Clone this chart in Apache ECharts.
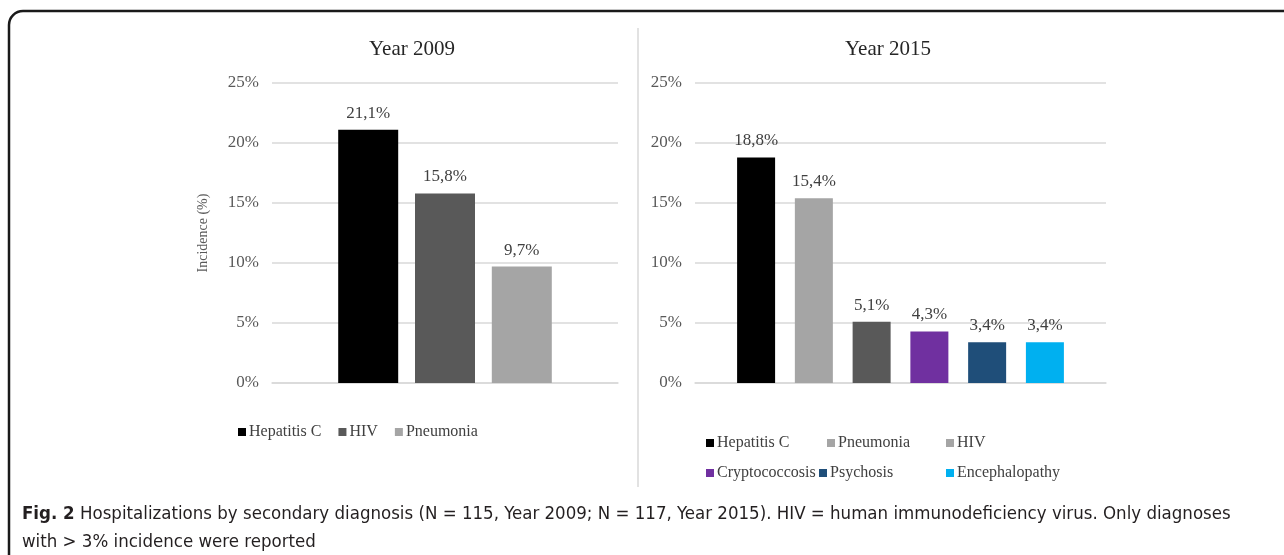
<!DOCTYPE html>
<html lang="en">
<head>
<meta charset="UTF-8">
<title>Hospitalizations by secondary diagnosis</title>
<script src="https://cdn.jsdelivr.net/npm/echarts@6/dist/echarts.min.js"></script>
<style>html, body { margin: 0; padding: 0; background: #fff; }</style>
</head>
<body>
<div id="main" style="width:1284px;height:555px;"></div>
<script type="text/javascript">
// data (incidence in %)
var names2009 = ['Hepatitis C', 'HIV', 'Pneumonia'];
var values2009 = [21.1, 15.8, 9.7];
var colors2009 = ['#000000', '#595959', '#a5a5a5'];

var names2015 = ['Hepatitis C', 'Pneumonia', 'HIV', 'Cryptococcosis', 'Psychosis', 'Encephalopathy'];
var values2015 = [18.8, 15.4, 5.1, 4.3, 3.4, 3.4];
var colors2015 = ['#000000', '#a5a5a5', '#595959', '#7030a0', '#1f4e79', '#00b0f0'];

var yMin = 0, yMax = 25, yStep = 5;

var serif = '"Liberation Serif", "DejaVu Serif", serif';
var captionFont = '"Liberation Sans Narrow", "DejaVu Sans Condensed", "Liberation Sans", sans-serif';

var myChart = echarts.init(document.getElementById('main'));

function pct(p) {
    return p.value.toFixed(1).replace('.', ',') + '%';
}

function makeSeries(names, values, colors, idx, barWidth, barGap) {
    return names.map(function (n, i) {
        return {
            name: n,
            type: 'bar',
            xAxisIndex: idx,
            yAxisIndex: idx,
            barWidth: barWidth,
            barGap: barGap,
            data: [values[i]],
            itemStyle: { color: colors[i] },
            label: {
                show: true,
                position: 'top',
                distance: 8,
                formatter: pct,
                fontFamily: serif,
                fontSize: 17,
                color: '#404040'
            }
        };
    });
}

function yAxisOf(idx, name) {
    return {
        type: 'value',
        gridIndex: idx,
        min: yMin,
        max: yMax,
        interval: yStep,
        name: name,
        nameLocation: 'middle',
        nameGap: 62,
        nameTextStyle: { fontFamily: serif, fontSize: 14, color: '#595959' },
        axisLine: { show: false },
        axisTick: { show: false },
        axisLabel: { formatter: '{value}%', margin: 13, fontFamily: serif, fontSize: 17, color: '#595959' },
        splitLine: { lineStyle: { color: '#d9d9d9', width: 1.5 } }
    };
}

function xAxisOf(idx, label) {
    return {
        type: 'category',
        gridIndex: idx,
        data: [label],
        axisLine: { show: true, lineStyle: { color: '#d9d9d9', width: 1.5 } },
        axisTick: { show: false },
        axisLabel: { show: false }
    };
}

// one legend entry placed where Excel put it
function legendAt(item, left, top) {
    return {
        left: left,
        top: top,
        padding: 0,
        icon: 'rect',
        itemWidth: 8,
        itemHeight: 8,
        selectedMode: false,
        textStyle: { fontFamily: serif, fontSize: 16, color: '#404040', padding: [0, 0, 0, -2] },
        data: [item]
    };
}

myChart.setOption({
    animation: false,
    title: [
        { text: 'Year 2009', left: 407, top: 34, textAlign: 'center',
          textStyle: { fontFamily: serif, fontSize: 21, fontWeight: 'normal', color: '#262626' } },
        { text: 'Year 2015', left: 883, top: 34, textAlign: 'center',
          textStyle: { fontFamily: serif, fontSize: 21, fontWeight: 'normal', color: '#262626' } }
    ],
    grid: [
        { left: 272, top: 83, width: 346, height: 300 },
        { left: 695, top: 83, width: 411, height: 300 }
    ],
    xAxis: [xAxisOf(0, '2009'), xAxisOf(1, '2015')],
    yAxis: [yAxisOf(0, 'Incidence (%)'), yAxisOf(1, '')],
    legend: [
        {
            left: 238, top: 424, padding: 0, icon: 'rect', itemWidth: 8, itemHeight: 8, itemGap: 17,
            selectedMode: false,
            textStyle: { fontFamily: serif, fontSize: 16, color: '#404040', padding: [0, 0, 0, -2] },
            data: names2009
        },
        legendAt(names2015[0], 706, 435),
        legendAt(names2015[1], 827, 435),
        // the source figure draws the HIV key in light grey
        legendAt({ name: names2015[2], itemStyle: { color: '#a5a5a5' } }, 946, 435),
        legendAt(names2015[3], 706, 465),
        legendAt(names2015[4], 819, 465),
        legendAt(names2015[5], 946, 465)
    ],
    series: makeSeries(names2009, values2009, colors2009, 0, 60, '28%')
        .concat(makeSeries(names2015, values2015, colors2015, 1, 38, '52%')),
    graphic: [
        { type: 'rect', silent: true, z: 100,
          shape: { x: 9, y: 11, width: 1320, height: 600, r: 14 },
          style: { fill: 'none', stroke: '#1a1a1a', lineWidth: 2.5 } },
        { type: 'line', silent: true,
          shape: { x1: 638, y1: 28, x2: 638, y2: 487 },
          style: { stroke: '#d9d9d9', lineWidth: 1.5 } },
        { type: 'text', silent: true, left: 22, top: 505,
          style: {
              text: '{b|Fig. 2} Hospitalizations by secondary diagnosis (N = 115, Year 2009; N = 117, Year 2015). HIV = human immunodeficiency virus. Only diagnoses',
              font: '18.5px ' + captionFont,
              fill: '#231f20',
              rich: { b: { fontWeight: 'bold', fontSize: 18.5, fontFamily: captionFont, fill: '#231f20' } }
          } },
        { type: 'text', silent: true, left: 22, top: 533,
          style: { text: 'with > 3% incidence were reported', font: '18.5px ' + captionFont, fill: '#231f20' } }
    ]
});
</script>
</body>
</html>
